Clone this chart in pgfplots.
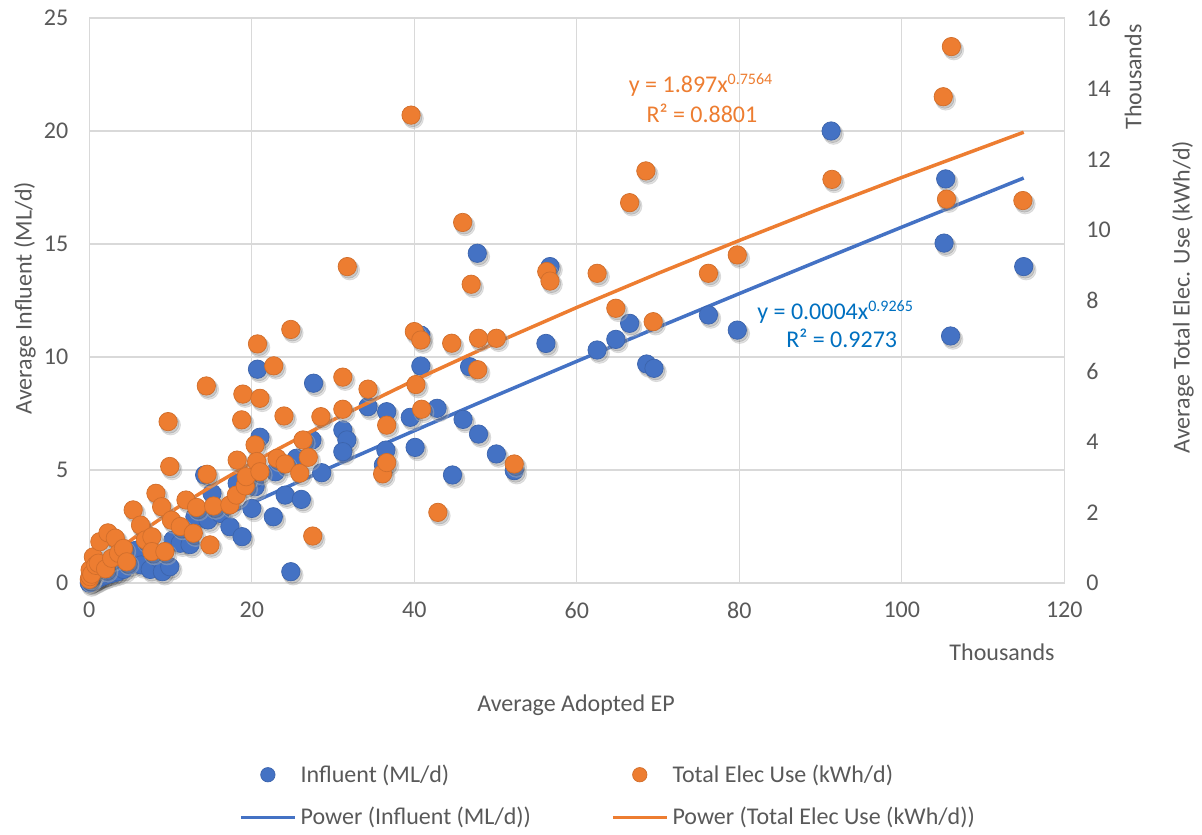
\documentclass[border=0pt]{standalone}
\usepackage{pgfplots}
\usepackage{pgfplotstable}
\pgfplotsset{compat=1.18}
\usepackage{fontspec}
\setmainfont{Carlito}

\definecolor{xlblue}{HTML}{4472C4}
\definecolor{xlorange}{HTML}{ED7D31}
\definecolor{xltext}{HTML}{595959}
\definecolor{xlgrid}{HTML}{D9D9D9}
\definecolor{xlfitblue}{HTML}{0070C0}
\definecolor{xlshadow}{HTML}{B0B0B0}

% Average adopted EP (thousands) vs. average influent (ML/d)
\pgfplotstableread{
x y
0.0 0.0
0.2 0.05
0.5 0.1
0.8 0.15
1.0 0.2
1.3 0.25
1.7 0.3
2.0 0.35
2.5 0.4
3.0 0.45
3.5 0.5
4.2 0.6
5.0 0.8
5.4 1.0
5.8 1.45
6.4 0.8
7.5 0.6
8.5 1.1
9.0 0.5
9.9 0.72
10.3 1.9
11.2 1.76
12.4 1.7
13.0 2.93
14.2 4.78
14.6 2.79
15.1 3.97
16.1 3.08
17.3 2.49
18.2 4.41
18.8 2.05
20.0 3.3
20.4 4.26
20.4 4.63
20.7 9.46
21.0 6.45
22.65 2.93
22.9 4.92
24.1 3.89
24.8 0.5
25.5 5.52
26.1 3.7
27.4 6.33
27.6 8.84
28.6 4.88
31.2 6.77
31.7 6.33
31.2 5.81
34.3 7.8
36.2 5.22
36.5 5.88
36.6 7.58
39.5 7.33
40.1 6.0
40.8 9.6
40.8 10.97
42.8 7.73
44.7 4.78
46.0 7.24
46.8 9.57
47.75 14.59
47.9 6.59
50.1 5.71
52.3 4.97
56.2 10.6
56.7 14.0
62.5 10.31
64.8 10.78
66.5 11.49
68.6 9.69
69.5 9.5
76.2 11.86
79.75 11.19
91.3 20.0
105.2 15.04
105.4 17.88
106.0 10.93
115.0 14.0
}\influent

% Average adopted EP (thousands) vs. total electricity use (thousand kWh/d)
\pgfplotstableread{
x y
0.0 0.1
0.1 0.18
0.1 0.37
0.3 0.25
0.5 0.74
0.8 0.5
1.1 0.56
1.3 1.17
2.0 0.4
2.3 1.42
2.75 0.7
3.2 1.27
3.6 0.84
4.2 0.98
4.6 0.6
5.4 2.07
6.3 1.64
6.9 1.22
7.7 1.31
7.7 0.89
8.2 2.54
8.9 2.16
9.3 0.89
9.7 4.57
9.9 3.3
10.1 1.78
11.2 1.6
11.9 2.35
12.8 1.41
13.2 2.14
14.4 5.58
14.5 3.08
14.85 1.08
15.3 2.18
17.3 2.21
18.1 2.49
18.2 3.48
18.75 4.62
18.9 5.35
19.2 2.75
19.3 3.01
20.4 3.91
20.6 3.44
20.7 6.77
21.0 5.23
21.0 3.15
22.7 6.15
23.1 3.53
23.96 4.73
24.1 3.37
24.8 7.18
25.9 3.11
26.3 4.05
26.95 3.56
27.5 1.33
28.5 4.71
31.2 5.83
31.2 4.92
31.75 8.96
34.3 5.49
36.1 3.09
36.6 3.41
36.6 4.47
39.6 13.25
40.0 7.12
40.2 5.62
40.8 6.88
40.9 4.92
42.9 2.0
44.6 6.79
45.95 10.21
47.0 8.46
47.8 6.04
47.9 6.93
50.1 6.93
52.3 3.37
56.3 8.82
56.7 8.55
62.5 8.77
64.8 7.78
66.5 10.77
68.5 11.67
69.4 7.40
76.2 8.77
79.75 9.29
91.4 11.43
105.1 13.77
105.5 10.87
106.1 15.19
114.9 10.83
}\elec

% Power trend lines sampled along the fitted curves
\pgfplotstableread{
x y
0.15 0.038
0.5 0.116
1 0.221
2 0.420
3 0.611
5 0.981
7.5 1.429
10 1.865
15 2.716
20 3.545
30 5.162
40 6.739
50 8.286
60 9.810
70 11.317
80 12.806
90 14.283
100 15.746
115 17.92
}\influentfit

\pgfplotstableread{
x y
0.15 0.084
0.5 0.209
1 0.353
2 0.596
3 0.809
5 1.191
7.5 1.619
10 2.012
15 2.735
20 3.399
30 4.619
40 5.742
50 6.798
60 7.803
70 8.769
80 9.700
90 10.606
100 11.484
115 12.765
}\elecfit

\pgfplotsset{
  dotshadowA/.style={only marks, mark=*, mark size=5.0pt, forget plot,
    color=xlshadow, opacity=0.35,
    mark options={xshift=1.2pt, yshift=-1.7pt}},
  dotshadowB/.style={only marks, mark=*, mark size=4.6pt, forget plot,
    color=black, opacity=0.12,
    mark options={xshift=0.8pt, yshift=-1.2pt}},
  dot/.style={only marks, mark=*, mark size=4.6pt,
    mark options={draw=#1!88!black, line width=0.35pt, fill=#1},
    legend image code/.code={\draw[##1, mark size=3.6pt] plot coordinates {(13.5pt,0pt)};}},
  fit/.style={no markers, line width=1.75pt, draw=#1,
    legend image code/.code={\draw[##1] (0pt,0pt) -- (27pt,0pt);}},
}

\begin{document}
\begin{tikzpicture}[font=\fontsize{12}{14.4}\selectfont]
\useasboundingbox (0pt,0pt) rectangle (601pt,417pt);

\begin{axis}[
  at={(44.65pt,125.5pt)}, anchor=south west,
  width=487.5pt, height=282.5pt, scale only axis,
  xmin=0, xmax=120, ymin=0, ymax=25,
  xtick={0,20,...,120}, ytick={0,5,...,25},
  grid=major, major grid style={xlgrid, line width=0.6pt},
  axis line style={xlgrid, line width=0.6pt},
  major tick length=0pt,
  tick label style={text=xltext},
  /pgf/number format/assume math mode=true,
  xticklabel style={yshift=-6pt},
  yticklabel style={xshift=-7pt},
  clip=false,
]
\addplot[dotshadowA] table[x=x,y=y]{\influent};
\addplot[dotshadowB] table[x=x,y=y]{\influent};
\addplot[dot=xlblue] table[x=x,y=y]{\influent};
\addplot[fit=xlblue] table[x=x,y=y]{\influentfit};
\end{axis}

\begin{axis}[
  at={(44.65pt,125.5pt)}, anchor=south west,
  width=487.5pt, height=282.5pt, scale only axis,
  xmin=0, xmax=120, ymin=0, ymax=16,
  ytick={0,2,...,16},
  hide x axis,
  axis y line*=right,
  y axis line style={draw=none},
  major tick length=0pt,
  tick label style={text=xltext},
  /pgf/number format/assume math mode=true,
  yticklabel style={xshift=7.5pt},
  clip=false,
  legend columns=2,
  legend cell align=left,
  legend style={at={(0.533,-0.377)}, anchor=center, draw=none, fill=none,
    text=xltext, row sep=7pt,
    /tikz/every even column/.append style={column sep=38pt}},
]
\addlegendimage{dot=xlblue}
\addlegendentry{Influent (ML/d)}
\addplot[dotshadowA] table[x=x,y=y]{\elec};
\addplot[dotshadowB] table[x=x,y=y]{\elec};
\addplot[dot=xlorange] table[x=x,y=y]{\elec};
\addlegendentry{Total Elec Use (kWh/d)}
\addlegendimage{fit=xlblue}
\addlegendentry{Power (Influent (ML/d))}
\addplot[fit=xlorange] table[x=x,y=y]{\elecfit};
\addlegendentry{Power (Total Elec Use (kWh/d))}

\node[text=xlorange] at (axis cs:75.3,14.10) {y = 1.897x\textsuperscript{0.7564}};
\node[text=xlorange] at (axis cs:75.4,13.31) {R² = 0.8801};
\node[text=xlfitblue] at (axis cs:91.85,7.67) {y = 0.0004x\textsuperscript{0.9265}};
\node[text=xlfitblue] at (axis cs:92.6,6.94) {R² = 0.9273};
\end{axis}

\node[text=xltext] at (501pt,91pt) {Thousands};
\node[text=xltext] at (288pt,64.5pt) {Average Adopted EP};
\node[text=xltext, rotate=90] at (12.5pt,268pt) {Average Influent (ML/d)};
\node[text=xltext, rotate=90] at (566.5pt,378.5pt) {Thousands};
\node[text=xltext, rotate=90] at (591.5pt,268.5pt) {Average Total Elec. Use (kWh/d)};
\end{tikzpicture}
\end{document}
